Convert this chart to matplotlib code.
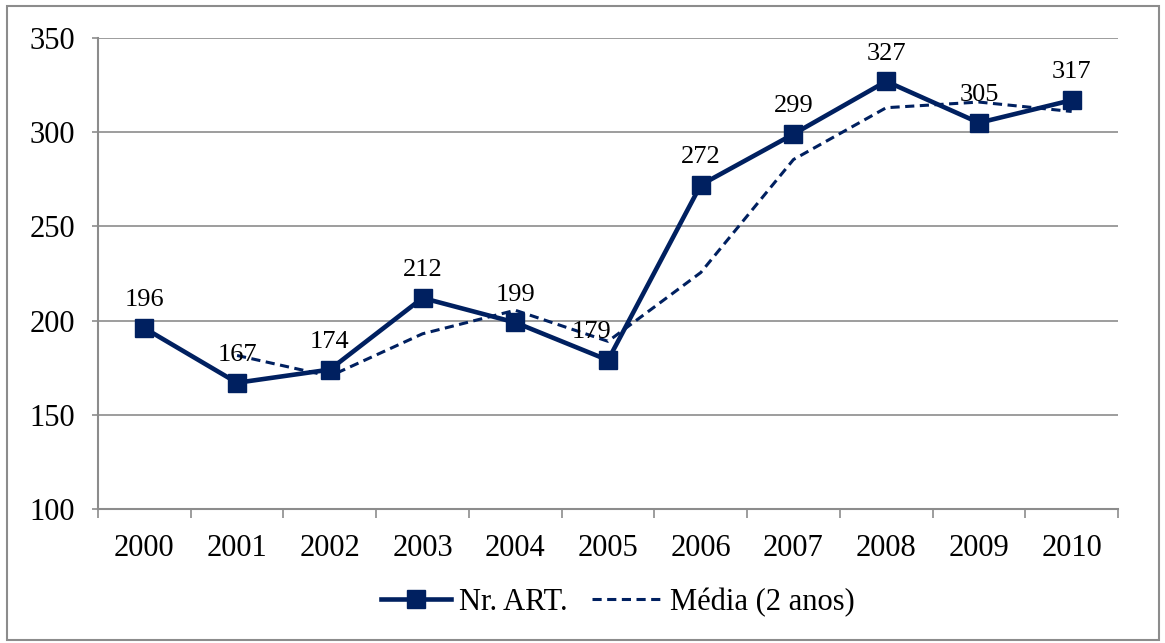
import matplotlib.pyplot as plt
from matplotlib.patches import Rectangle

anos = ['2000', '2001', '2002', '2003', '2004', '2005',
        '2006', '2007', '2008', '2009', '2010']
nr_art = [196, 167, 174, 212, 199, 179, 272, 299, 327, 305, 317]
media_2anos = [181.5, 170.5, 193, 205.5, 189, 225.5, 285.5, 313, 316, 311]

cor = '#002060'
cinza = '#8c8c8c'

plt.rcParams['font.family'] = ['Liberation Serif', 'DejaVu Serif']

fig = plt.figure(figsize=(11.65, 6.43), dpi=100)
ax = fig.add_axes([0.0841, 0.2084, 0.8756, 0.7325])

x = list(range(len(anos)))
ax.plot(x, nr_art, color=cor, lw=3.3, marker='s', markersize=13,
        label='Nr. ART.', zorder=3)
ax.plot(x[1:], media_2anos, color=cor, lw=2.2, ls=(0, (3, 1.8)),
        label='Média (2 anos)', zorder=2)

# rotulos de dados
for xi, v in zip(x, nr_art):
    dx = -11.5 if v == 179 else 0
    ax.annotate(str(v), (xi, v), xytext=(dx, 20),
                textcoords='offset points', ha='center', va='center',
                fontsize=19)

ax.set_xlim(-0.5, len(anos) - 0.5)
ax.set_ylim(100, 350)
ax.set_yticks(range(100, 351, 50))
ax.set_xticks([i - 0.5 for i in range(len(anos) + 1)])
ax.set_xticklabels([])
ax.set_xticks(x, minor=True)
ax.set_xticklabels(anos, minor=True)
ax.tick_params(axis='x', which='major', length=6.5, color=cinza, width=1.2)
ax.tick_params(axis='x', which='minor', length=0, labelsize=22, pad=18)
ax.tick_params(axis='y', length=4.5, color=cinza, width=1.2, labelsize=22, pad=12)

ax.grid(axis='y', color=cinza, lw=1.2)
ax.set_axisbelow(True)
for s in ['top', 'right']:
    ax.spines[s].set_visible(False)
for s in ['left', 'bottom']:
    ax.spines[s].set_color(cinza)
    ax.spines[s].set_linewidth(1.5)

fig.legend(loc='center', bbox_to_anchor=(0.530, 0.063), ncol=2, frameon=False,
           fontsize=22, handlelength=2.3, columnspacing=0.8, handletextpad=0.25)

fig.patches.append(Rectangle((0.006, 0.004), 0.989, 0.987, transform=fig.transFigure,
                             fill=False, edgecolor=cinza, lw=1.5))

fig.savefig('out.png', dpi=100)
